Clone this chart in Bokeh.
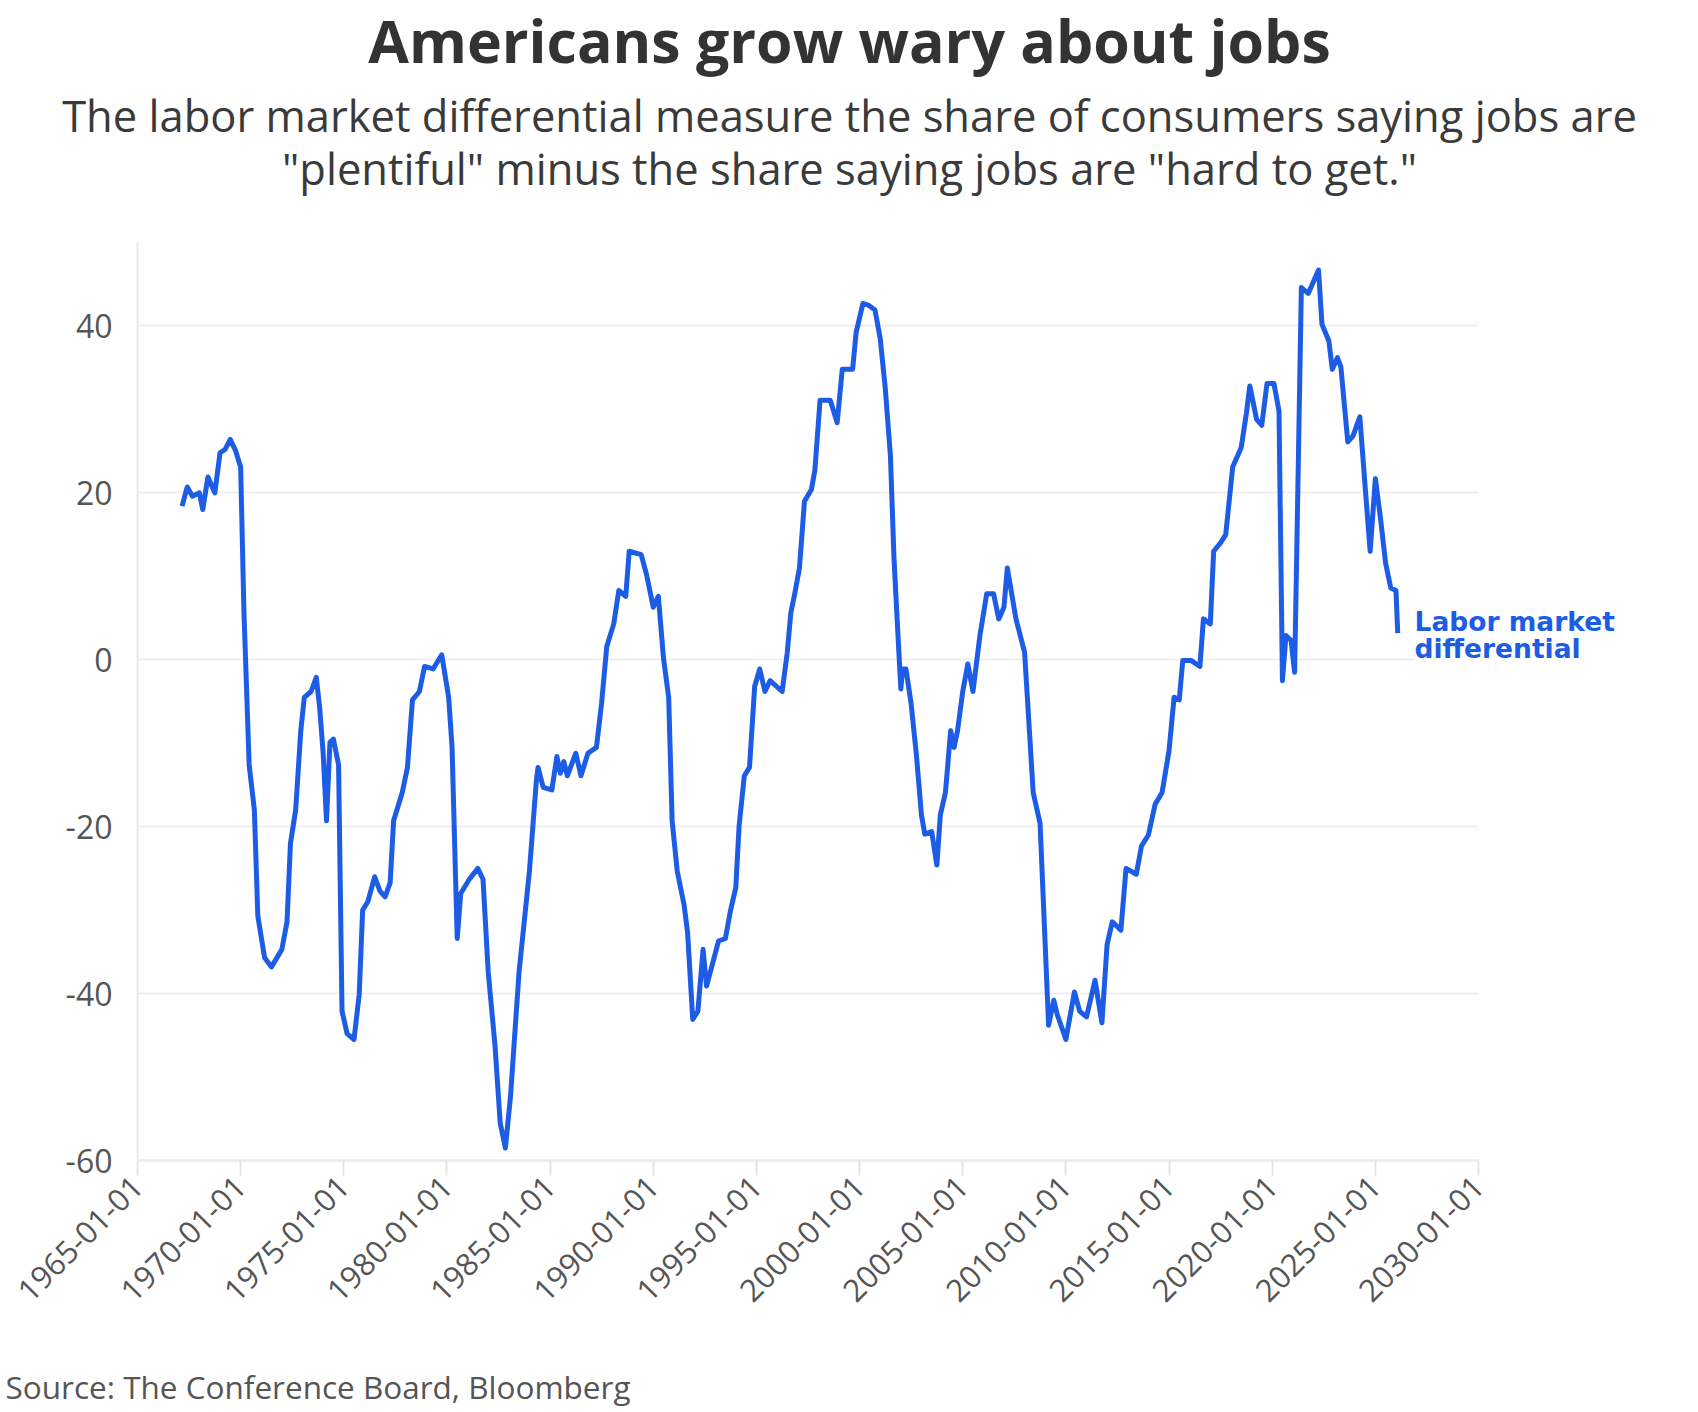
import math
from datetime import datetime
import pandas as pd
from bokeh.plotting import figure
from bokeh.models import (Range1d, FixedTicker, DatetimeTickFormatter, Label,
                          ColumnDataSource, PrintfTickFormatter)
from bokeh.embed import file_html
from bokeh.resources import INLINE

TITLE = "Americans grow wary about jobs"
SUBTITLE_1 = "The labor market differential measure the share of consumers saying jobs are"
SUBTITLE_2 = "\"plentiful\" minus the share saying jobs are \"hard to get.\""
SOURCE = "Source: The Conference Board, Bloomberg"
SERIES_NAME_1 = "Labor market"
SERIES_NAME_2 = "differential"

dates = [
    "1967-03", "1967-06", "1967-09", "1968-01", "1968-03", "1968-06", "1968-10",
    "1969-01", "1969-04", "1969-07", "1969-10", "1970-01", "1970-03", "1970-06",
    "1970-09", "1970-11", "1971-03", "1971-07", "1972-01", "1972-04", "1972-06",
    "1972-09", "1972-12", "1973-02", "1973-06", "1973-09", "1973-11", "1974-01",
    "1974-03", "1974-05", "1974-07", "1974-10", "1974-12", "1975-03", "1975-07",
    "1975-10", "1975-12", "1976-03", "1976-07", "1976-10", "1977-01", "1977-04",
    "1977-06", "1977-11", "1978-02", "1978-05", "1978-09", "1978-12", "1979-05",
    "1979-10", "1980-02", "1980-04", "1980-07", "1980-09", "1981-02", "1981-07",
    "1981-10", "1982-01", "1982-05", "1982-08", "1982-11", "1983-02", "1983-07",
    "1984-01", "1984-05", "1984-06", "1984-09", "1985-02", "1985-05", "1985-07",
    "1985-09", "1985-11", "1986-04", "1986-07", "1986-11", "1987-04", "1987-07",
    "1987-10", "1988-02", "1988-05", "1988-09", "1988-11", "1989-06", "1989-09",
    "1990-01", "1990-04", "1990-07", "1990-10", "1990-12", "1991-03", "1991-07",
    "1991-09", "1991-12", "1992-03", "1992-06", "1992-08", "1992-11", "1993-03",
    "1993-07", "1993-10", "1994-01", "1994-03", "1994-06", "1994-09", "1994-12",
    "1995-03", "1995-06", "1995-09", "1996-04", "1996-07", "1996-09", "1996-11",
    "1997-02", "1997-05", "1997-09", "1997-11", "1998-02", "1998-08", "1998-12",
    "1999-03", "1999-09", "1999-11", "2000-03", "2000-06", "2000-10", "2001-01",
    "2001-04", "2001-07", "2001-09", "2001-11", "2002-01", "2002-02", "2002-04",
    "2002-07", "2002-10", "2003-01", "2003-03", "2003-07", "2003-10", "2003-12",
    "2004-03", "2004-06", "2004-08", "2004-10", "2005-01", "2005-04", "2005-07",
    "2005-11", "2006-03", "2006-07", "2006-10", "2007-01", "2007-03", "2007-08",
    "2008-01", "2008-06", "2008-10", "2009-03", "2009-06", "2009-08", "2010-01",
    "2010-06", "2010-09", "2011-01", "2011-06", "2011-10", "2012-01", "2012-04",
    "2012-09", "2012-12", "2013-06", "2013-09", "2014-01", "2014-05", "2014-09",
    "2015-01", "2015-04", "2015-07", "2015-09", "2016-02", "2016-07", "2016-09",
    "2017-01", "2017-03", "2017-07", "2017-10", "2018-02", "2018-07", "2018-10",
    "2018-12", "2019-04", "2019-07", "2019-10", "2020-02", "2020-05", "2020-07",
    "2020-09", "2020-12", "2021-02", "2021-03", "2021-06", "2021-10", "2022-04",
    "2022-06", "2022-10", "2022-12", "2023-03", "2023-05", "2023-09", "2023-12",
    "2024-04", "2024-07", "2024-10", "2025-01", "2025-04", "2025-07", "2025-10",
    "2026-01", "2026-02",
]

differential = [
    18.4, 20.7, 19.6, 20.0, 18.0, 21.9, 20.0,
    24.8, 25.2, 26.4, 25.1, 23.1, 5.6, -12.6,
    -18.0, -30.7, -35.7, -36.8, -34.7, -31.4, -22.0,
    -18.0, -8.5, -4.5, -3.8, -2.1, -5.8, -11.2,
    -19.3, -9.9, -9.5, -12.6, -42.1, -44.8, -45.5,
    -40.1, -30.0, -29.0, -26.0, -27.7, -28.4, -26.7,
    -19.3, -15.9, -12.9, -4.8, -3.8, -0.8, -1.1,
    0.6, -4.5, -10.5, -33.4, -28.0, -26.3, -25.0,
    -26.3, -37.4, -46.2, -55.5, -58.5, -52.2, -37.4,
    -25.3, -14.6, -12.9, -15.3, -15.6, -11.6, -13.6,
    -12.2, -13.9, -11.2, -13.9, -11.2, -10.5, -5.2,
    1.6, 4.3, 8.3, 7.6, 13.0, 12.6, 10.3,
    6.3, 7.6, 0.2, -4.5, -19.3, -25.3, -29.4,
    -32.7, -43.1, -42.1, -34.7, -39.1, -36.8, -33.7,
    -33.4, -30.0, -27.3, -19.9, -13.9, -12.9, -3.2,
    -1.1, -3.8, -2.5, -3.8, 0.9, 5.6, 7.6,
    11.0, 19.0, 20.4, 22.7, 31.1, 31.1, 28.4,
    34.8, 34.8, 39.2, 42.7, 42.5, 41.9, 38.5,
    32.5, 24.4, 12.3, 4.3, -3.5, -1.1, -1.1,
    -5.2, -11.2, -18.6, -20.9, -20.6, -24.6, -18.6,
    -15.9, -8.5, -10.5, -8.5, -3.8, -0.5, -3.8,
    2.9, 7.9, 7.9, 4.9, 6.3, 11.0, 4.9,
    0.9, -15.9, -19.6, -43.8, -40.8, -42.5, -45.5,
    -39.8, -42.1, -42.8, -38.4, -43.5, -34.1, -31.4,
    -32.4, -25.0, -25.7, -22.3, -21.0, -17.3, -15.9,
    -10.9, -4.5, -4.8, -0.1, -0.1, -0.8, 4.9,
    4.3, 13.0, 14.0, 15.0, 23.1, 25.4, 29.5,
    32.8, 28.8, 28.1, 33.1, 33.1, 29.8, -2.5,
    2.9, 2.3, -1.5, 8.9, 44.6, 43.9, 46.7,
    40.2, 38.2, 34.8, 36.2, 35.1, 26.1, 26.8,
    29.1, 21.0, 13.0, 21.7, 17.0, 11.6, 8.6,
    8.3, 3.2,
]

tick_years = [1965, 1970, 1975, 1980, 1985, 1990, 1995, 2000, 2005, 2010, 2015, 2020, 2025, 2030]
y_ticks = [-60, -40, -20, 0, 20, 40]
y_min, y_max = -60, 50

LINE_COLOR = "#1d5ce5"
TEXT_DARK = "#333333"
TEXT_GRAY = "#555555"
FONT = "Open Sans"

W, H = 1696, 1410
# where the axes sit on the page (px)
AX_L, AX_R, AX_T, AX_B = 137, 1478, 242, 1160

t0 = datetime(tick_years[0], 1, 1).timestamp() * 1000
t1 = datetime(tick_years[-1], 1, 1).timestamp() * 1000
kx = (AX_R - AX_L) / (t1 - t0)
x_start = t0 - AX_L / kx
x_end = x_start + W / kx
ky = (AX_B - AX_T) / (y_max - y_min)
y_top = y_max + AX_T / ky
y_bottom = y_top - H / ky

src = ColumnDataSource(dict(x=pd.to_datetime(dates, format="%Y-%m"), y=differential))

p = figure(width=W, height=H, x_axis_type="datetime", output_backend="svg",
           toolbar_location=None,
           x_range=Range1d(x_start, x_end), y_range=Range1d(y_bottom, y_top),
           min_border=0, min_border_left=0, min_border_right=0,
           min_border_top=0, min_border_bottom=0)
p.outline_line_color = None

p.line("x", "y", source=src, line_color=LINE_COLOR, line_width=5, line_join="round")

xa = p.xaxis[0]
xa.fixed_location = y_min
xa.ticker = FixedTicker(ticks=[datetime(y, 1, 1).timestamp() * 1000 for y in tick_years])
fmt = "%Y-%m-%d"
xa.formatter = DatetimeTickFormatter(years=fmt, months=fmt, days=fmt, hours=fmt,
                                     minutes=fmt, seconds=fmt, milliseconds=fmt,
                                     microseconds=fmt, hourmin=fmt, minsec=fmt)
xa.bounds = (t0, t1)
xa.major_label_orientation = math.pi / 4
xa.major_label_text_font = FONT
xa.major_label_text_font_size = "31px"
xa.major_label_text_color = TEXT_GRAY
xa.axis_line_color = "#ebebeb"
xa.axis_line_width = 2
xa.major_tick_line_color = "#e6e6e6"
xa.major_tick_line_width = 2
xa.major_tick_out = 15
xa.major_tick_in = 0
xa.minor_tick_line_color = None
xa.major_label_standoff = 6

ya = p.yaxis[0]
ya.fixed_location = t0
ya.ticker = FixedTicker(ticks=y_ticks)
ya.formatter = PrintfTickFormatter(format="%d")
ya.bounds = (y_min, y_max)
ya.major_label_text_font = FONT
ya.major_label_text_font_size = "32px"
ya.major_label_text_color = TEXT_GRAY
ya.axis_line_color = "#ebebeb"
ya.axis_line_width = 2
ya.major_tick_line_color = None
ya.major_tick_out = 0
ya.major_tick_in = 0
ya.minor_tick_line_color = None
ya.major_label_standoff = 25

p.xgrid.grid_line_color = None
p.ygrid.grid_line_color = "#efefef"
p.ygrid.grid_line_width = 2
p.ygrid.cross_bounds = (t0, t1)


def lab(text, X, Y, size, color, align="left", style="normal", font=FONT, bg=None):
    kw = {}
    if bg:
        kw = dict(background_fill_color=bg, background_fill_alpha=1.0)
    p.add_layout(Label(x=X, y=H - Y, x_units="screen", y_units="screen",
                       text=text, text_font=font, text_font_size=size,
                       text_color=color, text_align=align, text_baseline="alphabetic",
                       text_font_style=style, **kw))


lab(TITLE, 849, 39.5, "59px", TEXT_DARK, align="center", style="bold")
lab(SUBTITLE_1, 849, 114.5, "43.5px", "#3a3a3a", align="center")
lab(SUBTITLE_2, 849, 167.5, "43.5px", "#3a3a3a", align="center")
lab(SOURCE, 5, 1386, "31.5px", TEXT_GRAY)
lab(SERIES_NAME_1, 1414, 621, "26.5px", LINE_COLOR, style="bold", font="DejaVu Sans", bg="white")
lab(SERIES_NAME_2, 1414, 648, "26.5px", LINE_COLOR, style="bold", font="DejaVu Sans", bg="white")

open("out.html", "w").write(file_html(p, INLINE))
